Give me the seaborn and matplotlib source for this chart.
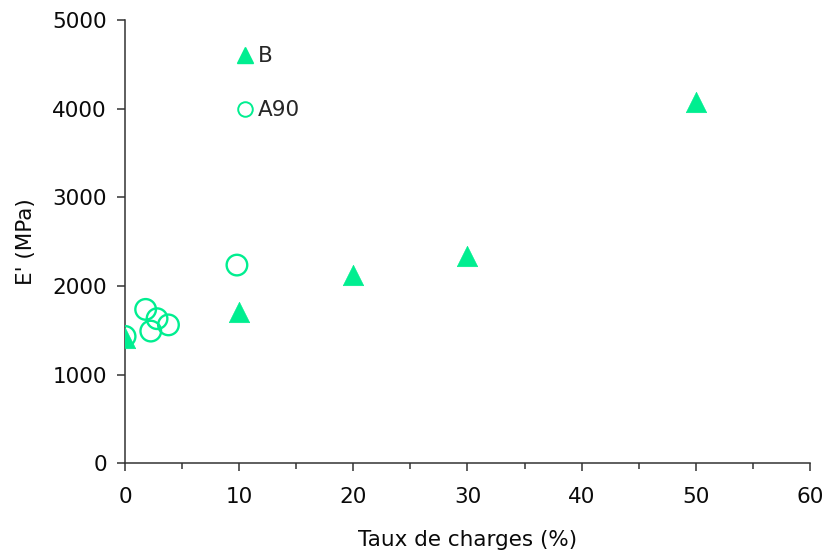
import matplotlib
matplotlib.use('Agg')
import matplotlib.pyplot as plt
from matplotlib.lines import Line2D
from matplotlib.ticker import MultipleLocator
import pandas as pd
import seaborn as sns

# données
b_taux = [0, 10, 20, 30, 50]
b_module = [1410, 1700, 2120, 2335, 4080]

a90_taux = [0, 1.8, 2.25, 2.8, 3.8, 9.8]
a90_module = [1430, 1735, 1490, 1630, 1560, 2235]

vert = '#00EE90'
taille = 15.5

sns.set_theme(style='white')
plt.rcParams['font.family'] = ['DejaVu Sans']

fig = plt.figure(figsize=(8.23, 5.56), dpi=100)
ax = fig.add_axes([0.152, 0.167, 0.832, 0.797])

df_b = pd.DataFrame({'taux': b_taux, 'E': b_module})
df_a = pd.DataFrame({'taux': a90_taux, 'E': a90_module})

sns.scatterplot(data=df_b, x='taux', y='E', marker='^', s=215, color=vert,
                edgecolor=vert, linewidth=0.5, ax=ax, zorder=3)
sns.scatterplot(data=df_a, x='taux', y='E', marker='o', s=220, facecolor='none',
                edgecolor=vert, linewidth=1.7, ax=ax, zorder=4)

ax.set_xlim(0, 60)
ax.set_ylim(0, 5000)
ax.xaxis.set_major_locator(MultipleLocator(10))
ax.xaxis.set_minor_locator(MultipleLocator(5))
ax.yaxis.set_major_locator(MultipleLocator(1000))

ax.set_xlabel('Taux de charges (%)', fontsize=taille, labelpad=17, color='#0a0a0a')
ax.set_ylabel("E' (MPa)", fontsize=taille, labelpad=12, color='#0a0a0a')

sns.despine(ax=ax)
for s in ['left', 'bottom']:
    ax.spines[s].set_color('#333333')
    ax.spines[s].set_linewidth(1.1)

ax.tick_params(axis='both', which='major', direction='out', length=6, width=1.1,
               color='#333333', labelsize=taille, labelcolor='#0a0a0a',
               bottom=True, left=True)
ax.tick_params(axis='x', which='major', pad=11)
ax.tick_params(axis='y', which='major', pad=7)
ax.tick_params(axis='x', which='minor', direction='out', length=4, width=1.1,
               color='#333333', bottom=True)

poignees = [
    Line2D([], [], marker='^', linestyle='none', markersize=12, color=vert,
           markeredgecolor=vert),
    Line2D([], [], marker='o', linestyle='none', markersize=10.5, markerfacecolor='none',
           markeredgecolor=vert, markeredgewidth=1.4),
]
ax.legend(poignees, ['B', 'A90'], loc='upper left', bbox_to_anchor=(0.128, 0.985),
          frameon=False, fontsize=taille, handletextpad=0.0, labelspacing=1.6,
          handlelength=1.2)

fig.savefig('out.png', dpi=100)
